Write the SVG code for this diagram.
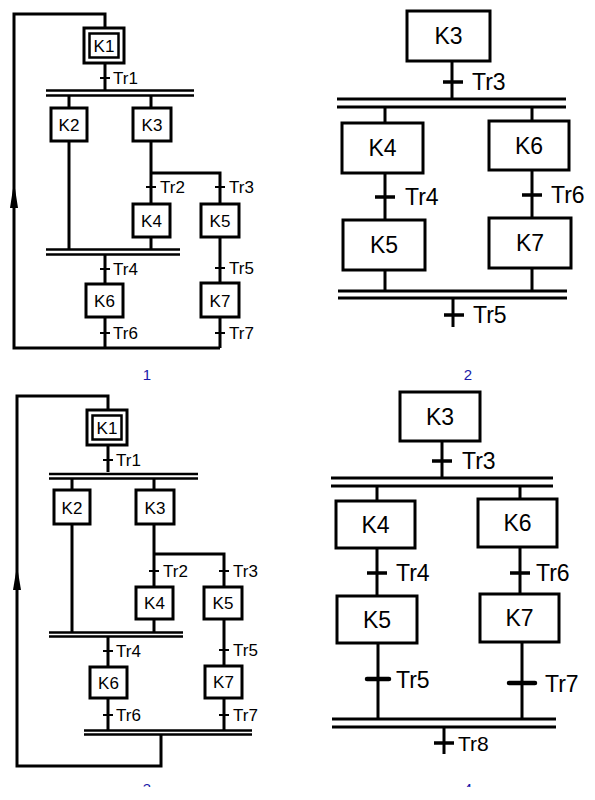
<svg xmlns="http://www.w3.org/2000/svg" width="595" height="800" viewBox="0 0 595 800">
<defs>
<style>
.ln{stroke:#000;stroke-width:3;fill:none}
.bar{stroke:#000;stroke-width:2.5;fill:none}
.bar2{stroke:#000;stroke-width:3;fill:none}
.tk{stroke:#000;stroke-width:2;fill:none}
.tk2{stroke:#000;stroke-width:3.5;fill:none}
.tk3{stroke:#000;stroke-width:4.5;stroke-linecap:round;fill:none}
.box{fill:#fff;stroke:#000;stroke-width:3}
.box2{fill:#fff;stroke:#000;stroke-width:2.5}
text{font-family:"Liberation Sans",Arial,sans-serif;fill:#000}
.s{font-size:17px}
.c{text-anchor:middle}
.b{font-size:23px}
.num{font-size:15px;fill:#1a1aa8;text-anchor:middle}
</style>
<clipPath id="cut"><rect x="0" y="0" width="595" height="787"/></clipPath>
</defs>
<rect width="595" height="800" fill="#fff"/>

<!-- ============ Diagram 1 ============ -->
<g id="d1">
<g id="d1-connectors">
<path class="ln" d="M105,27 V14 H14 V348 H220"/>
<polygon points="14,182 18,208 10,208" fill="#000"/>
<path class="ln" d="M105,64 V90"/>
<path class="bar" d="M46,90.5 H194 M46,95.5 H194"/>
<path class="ln" d="M69,95 V108 M151,95 V108"/>
<path class="ln" d="M69,141 V249"/>
<path class="ln" d="M151,141 V204 M151,173 H220 V204"/>
<path class="ln" d="M151,237 V249"/>
<path class="bar" d="M46,249.5 H180 M46,254.5 H180"/>
<path class="ln" d="M105,254 V284 M105,317 V348"/>
<path class="ln" d="M220,237 V283 M220,317 V348"/>
<path class="tk" d="M100,78 H110 M146,187 H156 M215,187 H225 M100,269 H110 M215,268 H225 M100,333 H110 M215,333 H225"/>
<text class="s" x="113" y="84">Tr1</text>
<text class="s" x="160" y="193">Tr2</text>
<text class="s" x="229" y="193">Tr3</text>
<text class="s" x="113" y="275">Tr4</text>
<text class="s" x="229" y="274">Tr5</text>
<text class="s" x="113" y="339">Tr6</text>
<text class="s" x="229" y="339">Tr7</text>
</g>
<g id="d1-K1"><rect class="box" x="84" y="28" width="40" height="35"/><rect class="box2" x="89.5" y="33.5" width="29" height="24"/><text class="s c" x="104" y="51.5">K1</text></g>
<g id="d1-K2"><rect class="box" x="51" y="108" width="36" height="33"/><text class="s c" x="69" y="131">K2</text></g>
<g id="d1-K3"><rect class="box" x="133" y="108" width="38" height="33"/><text class="s c" x="152" y="131">K3</text></g>
<g id="d1-K4"><rect class="box" x="133" y="204" width="37" height="33"/><text class="s c" x="151.5" y="227">K4</text></g>
<g id="d1-K5"><rect class="box" x="201" y="204" width="38" height="33"/><text class="s c" x="220" y="227">K5</text></g>
<g id="d1-K6"><rect class="box" x="86" y="284" width="37" height="33"/><text class="s c" x="104.5" y="307">K6</text></g>
<g id="d1-K7"><rect class="box" x="201" y="283" width="38" height="34"/><text class="s c" x="220" y="306.5">K7</text></g>
<text class="num" x="147" y="380">1</text>
</g>

<!-- ============ Diagram 2 ============ -->
<g id="d2">
<g id="d2-connectors">
<path class="ln" d="M452,61 V99"/>
<path class="bar2" d="M337,99 H566 M337,107 H566"/>
<path class="ln" d="M385,107 V123 M532,107 V121"/>
<path class="ln" d="M385,173 V220 M532,170 V218"/>
<path class="ln" d="M385,270 V291 M532,268 V291"/>
<path class="bar2" d="M338,291 H567 M338,298 H567"/>
<path class="ln" d="M453,298 V327"/>
<path class="tk2" d="M443,82 H463 M375,197 H395 M522,195 H542 M444,315 H464"/>
<text class="b" x="472" y="90">Tr3</text>
<text class="b" x="405" y="205">Tr4</text>
<text class="b" x="551" y="203">Tr6</text>
<text class="b" x="473" y="323">Tr5</text>
</g>
<g id="d2-K3"><rect class="box" x="407" y="11" width="83" height="50"/><text class="b c" x="448.5" y="44">K3</text></g>
<g id="d2-K4"><rect class="box" x="342" y="123" width="81" height="50"/><text class="b c" x="382.5" y="156">K4</text></g>
<g id="d2-K6"><rect class="box" x="489" y="121" width="80" height="49"/><text class="b c" x="529" y="154">K6</text></g>
<g id="d2-K5"><rect class="box" x="343" y="220" width="82" height="50"/><text class="b c" x="384" y="253">K5</text></g>
<g id="d2-K7"><rect class="box" x="489" y="218" width="82" height="50"/><text class="b c" x="530" y="251">K7</text></g>
<text class="num" x="468" y="380">2</text>
</g>

<!-- ============ Diagram 3 ============ -->
<g id="d3" transform="translate(3,382)">
<g id="d3-connectors">
<path class="ln" d="M105,27 V14 H14 V384 H158 V352"/>
<polygon points="14,184 18,208 10,208" fill="#000"/>
<path class="ln" d="M105,64 V90"/>
<path class="bar" d="M46,92 H195 M46,96.5 H195"/>
<path class="ln" d="M69,96 V108 M151,96 V108"/>
<path class="ln" d="M69,142 V250"/>
<path class="ln" d="M151,142 V205 M151,172 H221 V205"/>
<path class="ln" d="M151,237 V250"/>
<path class="bar" d="M46,250.5 H180 M46,254.5 H180"/>
<path class="ln" d="M105,254 V285 M105,316 V348"/>
<path class="ln" d="M221,237 V284 M221,316 V348"/>
<path class="bar" d="M81,348.5 H249 M81,352.5 H249"/>
<path class="tk" d="M100,78 H110 M146,189 H156 M216,189 H226 M100,269 H110 M216,268 H226 M100,333 H110 M216,333 H226"/>
<text class="s" x="113" y="84">Tr1</text>
<text class="s" x="160" y="195">Tr2</text>
<text class="s" x="230" y="195">Tr3</text>
<text class="s" x="113" y="275">Tr4</text>
<text class="s" x="230" y="274">Tr5</text>
<text class="s" x="113" y="339">Tr6</text>
<text class="s" x="230" y="339">Tr7</text>
</g>
<g id="d3-K1"><rect class="box" x="84" y="28" width="40" height="35"/><rect class="box2" x="89.5" y="33.5" width="29" height="24"/><text class="s c" x="104" y="51.5">K1</text></g>
<g id="d3-K2"><rect class="box" x="51" y="108" width="36" height="34"/><text class="s c" x="69" y="131.5">K2</text></g>
<g id="d3-K3"><rect class="box" x="133" y="108" width="38" height="34"/><text class="s c" x="152" y="131.5">K3</text></g>
<g id="d3-K4"><rect class="box" x="133" y="205" width="37" height="32"/><text class="s c" x="151.5" y="227">K4</text></g>
<g id="d3-K5"><rect class="box" x="201" y="205" width="38" height="32"/><text class="s c" x="220" y="227">K5</text></g>
<g id="d3-K6"><rect class="box" x="87" y="285" width="37" height="31"/><text class="s c" x="105.5" y="306.5">K6</text></g>
<g id="d3-K7"><rect class="box" x="202" y="284" width="37" height="32"/><text class="s c" x="220.5" y="306">K7</text></g>
</g>
<text class="num" x="147" y="794" clip-path="url(#cut)">3</text>

<!-- ============ Diagram 4 ============ -->
<g id="d4">
<g id="d4-connectors">
<path class="ln" d="M442,441 V478"/>
<path class="bar2" d="M331,478 H553 M331,486 H553"/>
<path class="ln" d="M377,486 V501 M520,486 V499"/>
<path class="ln" d="M377,548 V596 M520,547 V594"/>
<path class="ln" d="M378,643 V719 M522,642 V719"/>
<path class="bar2" d="M332,719 H556 M332,727 H556"/>
<path class="ln" d="M444,727 V754"/>
<path class="tk2" d="M432,461 H452 M367,573 H387 M510,573 H530 M434,743 H454"/>
<path class="tk3" d="M367,679 H389 M509,683 H535"/>
<text class="b" x="462" y="469">Tr3</text>
<text class="b" x="396" y="581">Tr4</text>
<text class="b" x="536" y="581">Tr6</text>
<text class="b" x="396" y="688">Tr5</text>
<text class="b" x="545" y="692">Tr7</text>
<text class="b" x="458" y="751" style="font-size:21px">Tr8</text>
</g>
<g id="d4-K3"><rect class="box" x="400" y="392" width="80" height="49"/><text class="b c" x="440" y="424.5">K3</text></g>
<g id="d4-K4"><rect class="box" x="336" y="501" width="79" height="47"/><text class="b c" x="375.5" y="532.5">K4</text></g>
<g id="d4-K6"><rect class="box" x="478" y="499" width="79" height="48"/><text class="b c" x="517.5" y="531">K6</text></g>
<g id="d4-K5"><rect class="box" x="337" y="596" width="80" height="47"/><text class="b c" x="377" y="627.5">K5</text></g>
<g id="d4-K7"><rect class="box" x="480" y="594" width="79" height="48"/><text class="b c" x="519.5" y="626">K7</text></g>
</g>
<text class="num" x="468" y="794" clip-path="url(#cut)">4</text>
</svg>
